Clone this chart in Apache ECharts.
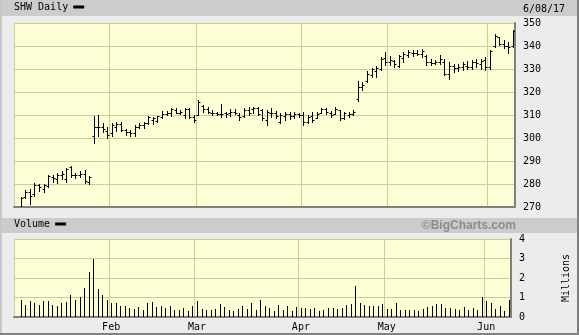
<!DOCTYPE html>
<html><head><meta charset="utf-8">
<script src="https://cdn.jsdelivr.net/npm/echarts@6/dist/echarts.min.js"></script>
<style>html,body{margin:0;padding:0;background:#ececec}#c{width:579px;height:335px}</style>
</head><body><div id="c"></div><script>
// Trading-day slots (first slot 1/02 is the New Year market holiday, no data)
const categories = ['1/02',
 '1/03','1/04','1/05','1/06','1/09','1/10','1/11','1/12','1/13','1/17','1/18','1/19','1/20','1/23','1/24','1/25','1/26','1/27','1/30','1/31',
 '2/01','2/02','2/03','2/06','2/07','2/08','2/09','2/10','2/13','2/14','2/15','2/16','2/17','2/21','2/22','2/23','2/24','2/27','2/28',
 '3/01','3/02','3/03','3/06','3/07','3/08','3/09','3/10','3/13','3/14','3/15','3/16','3/17','3/20','3/21','3/22','3/23','3/24','3/27','3/28','3/29','3/30','3/31',
 '4/03','4/04','4/05','4/06','4/07','4/10','4/11','4/12','4/13','4/17','4/18','4/19','4/20','4/21','4/24','4/25','4/26','4/27','4/28',
 '5/01','5/02','5/03','5/04','5/05','5/08','5/09','5/10','5/11','5/12','5/15','5/16','5/17','5/18','5/19','5/22','5/23','5/24','5/25','5/26','5/30','5/31',
 '6/01','6/02','6/05','6/06','6/07','6/08'];
const monthNames = ['Jan','Feb','Mar','Apr','May','Jun'];

const openP = [269.5,274.5,276.5,275.5,279.5,278,279,283,282,284,282,287.5,284,284,284.5,281,
 301,305,305,303,
 302,305,306,303.5,302.5,302,305,305.5,306.5,308,307.5,309,310.5,311,312,311,310,312.5,309,
 310,314,312.5,311,311,310.5,311,311,311.5,310,309.5,312,312.5,313,312,308,311,311,307,309.5,310.5,309.5,310.5,
 310,307,309.5,308.5,311,312.5,311,310.5,312,308.5,310,310.5,317,322,325,327.5,329,330,335,
 333,333.5,331.5,335,336,337,337,336.5,335.5,333,332.5,333,333,328,331.5,330.5,331,331.5,331,333,332,334,
 331,340,344,341,340,340];
const highP = [274.5,277.5,278,280.5,280,280,284,284,285,285.5,287,288,285,285.5,286,283.5,
 309.5,310,306.4,304.9,
 306.4,307,307,304,303.5,305.5,306.5,307,309.5,309.2,309.7,311.6,311.6,312.9,312.9,312.2,312.9,312.9,309.8,
 316.5,314.3,313.6,312.2,311.4,315,311.4,312.6,312.6,310.7,312.9,313.6,313.6,313.6,312.6,312.2,312.9,311.9,310.7,311.5,311.5,311.5,310.7,
 311.5,310,311.5,311.5,313.2,312.9,311.9,313.3,312.2,311.5,311.5,312.2,324.8,324.5,329,330.5,331.5,335.2,337.5,
 335.5,333.7,335.9,337.4,338.1,338.4,338.1,338.8,335.9,334.5,333.7,335.9,334.5,333,332.3,332.3,333,333.3,333.7,334.5,334.5,335.2,
 338.1,345.4,344,342.5,341.8,346.8];
const lowP = [267,274,271.5,275,277,276.5,278.5,281,280.5,282,281,283,282.5,283,280.5,280,
 298,300.9,302.5,299.9,
 301,303,303,301.5,301,301,304.5,304.5,306,306.3,307,308.6,310,309.6,310.7,310.3,308.6,308.6,307.1,
 310,311.4,310.7,310,310,309.3,309.3,309.6,310.3,307.9,309.3,310,310.7,310,307.9,305.7,309,308.6,306.4,307.9,308.1,308.6,309,
 305.6,306.4,307.1,308.6,310.7,310.4,309,310.4,307.9,308.1,309.3,310,316,321,324.4,326.5,326.5,329.4,331.6,
 331.6,330.9,330.9,333,335.2,335.5,335.9,335.2,331.6,331.6,332.3,332.3,327.2,325.8,328.7,329,329.4,329.8,330.1,330.9,330.1,329.4,
 330.1,339.6,340.3,339.2,337.1,339.6];
const closeP = [274,276.5,275,279.5,278.5,279.5,283.5,282.5,284,284.5,286.5,284,284,284.5,281.5,283,
 305,305,304,301.5,
 305.5,306,303.5,302.5,302,305,305.5,306.5,309,308.5,309.5,310.5,311,312.5,311,311.5,312.5,309,308,
 315.5,312.5,311.5,311,310.5,310.5,310.5,311.5,311,309,312,311,313,310.5,308.5,311.5,311,309.5,310,310.5,309.5,310.5,309.8,
 307,309,308,310.5,312.5,311.5,310,312.5,308.5,311,310.5,311.5,322,323,328,330,330.5,334.5,333,
 334,332,335.5,336.5,337.5,337,336.5,338,333,332.5,333,334.5,328,331.5,330.5,331,332,331,333,332.5,333.5,331,
 338,344.5,341,340,339.5,346.5];
// Volume, millions
const volume = [0.89,0.62,0.82,0.72,0.62,0.82,0.82,0.62,0.58,0.72,0.77,1.11,0.89,1.03,1.49,2.31,2.99,1.42,1.11,0.85,
 0.72,0.72,0.56,0.56,0.48,0.41,0.51,0.38,0.74,0.75,0.51,0.56,0.48,0.56,0.36,0.36,0.48,0.31,0.56,
 0.82,0.41,0.36,0.36,0.41,0.65,0.51,0.36,0.31,0.41,0.56,0.41,0.72,0.36,0.89,0.55,0.46,0.32,0.63,0.38,0.58,0.29,0.51,
 0.46,0.46,0.41,0.46,0.29,0.34,0.46,0.46,0.41,0.46,0.63,0.68,1.61,0.72,0.63,0.58,0.58,0.58,0.68,
 0.41,0.41,0.72,0.34,0.34,0.34,0.38,0.29,0.41,0.51,0.58,0.68,0.68,0.46,0.46,0.41,0.34,0.51,0.38,0.46,0.38,1.01,
 0.84,0.72,0.41,0.58,0.29,0.85];
const priceTicks = {min:270, max:350, step:10};
const volTicks = {min:0, max:4, step:1};

const FONT = 'DejaVu Sans Mono';
const GRID_C = '#cccc99';
const month = s => parseInt(s.split('/')[0], 10);
const isSplit = (i) => i === 0 || month(categories[i]) !== month(categories[i - 1]);
const isLabel = (i) => i > 0 && month(categories[i]) !== month(categories[i - 1]);

const ohlcData = openP.map((o, i) => [i + 1, o, highP[i], lowP[i], closeP[i]]);
const volData = volume.map((v, i) => [i + 1, v]);

function snap(v){ return Math.round(v) + 0.5; }
function renderOHLC(params, api){
  const i = api.value(0);
  const h = api.coord([i, api.value(2)]);
  const l = api.coord([i, api.value(3)]);
  const o = api.coord([i, api.value(1)]);
  const c = api.coord([i, api.value(4)]);
  const x = snap(h[0]);
  const st = {stroke:'#000', lineWidth:1};
  return {type:'group', children:[
    {type:'line', shape:{x1:x, y1:Math.round(h[1]), x2:x, y2:Math.round(l[1])+1}, style:st},
    {type:'line', shape:{x1:x-2, y1:snap(o[1]), x2:x, y2:snap(o[1])}, style:st},
    {type:'line', shape:{x1:x, y1:snap(c[1]), x2:x+2, y2:snap(c[1])}, style:st}
  ]};
}
function renderVol(params, api){
  const i = api.value(0);
  const t = api.coord([i, api.value(1)]);
  const b = api.coord([i, 0]);
  const x = snap(t[0]);
  return {type:'line', shape:{x1:x, y1:Math.round(t[1]), x2:x, y2:b[1]}, style:{stroke:'#000', lineWidth:1}};
}

const xBase = {
  type:'category', data:categories, boundaryGap:true,
  axisLine:{show:true, lineStyle:{color:'#808080', width:2}},
  axisTick:{show:false},
  splitLine:{show:true, interval:isSplit, lineStyle:{color:GRID_C, width:1}}
};
const yBase = {
  type:'value', position:'right',
  axisLine:{show:true, lineStyle:{color:'#808080', width:2}},
  axisTick:{show:false},
  axisLabel:{fontFamily:FONT, fontSize:10, color:'#000', margin:8},
  splitLine:{show:true, lineStyle:{color:GRID_C, width:1}}
};

const chart = echarts.init(document.getElementById('c'), null, {renderer:'canvas'});
chart.setOption({
  animation:false,
  backgroundColor:'#ececec',
  textStyle:{fontFamily:FONT},
  graphic:[
    {type:'rect', shape:{x:0, y:0, width:579, height:16}, style:{fill:'#cccccc'}, z:0},
    {type:'rect', shape:{x:2, y:218, width:575, height:15}, style:{fill:'#cccccc'}, z:0},
    {type:'rect', shape:{x:0, y:0, width:2, height:335}, style:{fill:'#c8c8c8'}, z:0},
    {type:'rect', shape:{x:577, y:0, width:2, height:335}, style:{fill:'#808080'}, z:0},
    {type:'rect', shape:{x:0, y:333, width:579, height:2}, style:{fill:'#808080'}, z:0},
    {type:'text', style:{text:'6/08/17', x:523, y:9, font:'10px "DejaVu Sans Mono"', fill:'#000', verticalAlign:'middle'}, z:5},
    {type:'text', style:{text:'©BigCharts.com', x:516, y:226, font:'bold 12px "Liberation Sans"', fill:'#8c8c8c', align:'right', verticalAlign:'middle'}, z:5}
  ],
  legend:[
    {data:['SHW Daily'], left:14, top:2, padding:0, align:'right', icon:'rect', itemWidth:11, itemHeight:3, selectedMode:false,
     textStyle:{fontFamily:FONT, fontSize:10, color:'#000'}},
    {data:['Volume'], left:14, top:219, padding:0, align:'right', icon:'rect', itemWidth:11, itemHeight:3, selectedMode:false,
     textStyle:{fontFamily:FONT, fontSize:10, color:'#000'}}
  ],
  grid:[
    {left:14, right:64, top:23, height:184, show:true, backgroundColor:'#fdfdd6', borderWidth:0},
    {left:14, right:64, top:239, height:78, show:true, backgroundColor:'#fdfdd6', borderWidth:0}
  ],
  xAxis:[
    Object.assign({}, xBase, {gridIndex:0, axisLabel:{show:false}}),
    Object.assign({}, xBase, {gridIndex:1, axisLabel:{show:true, interval:isLabel, margin:5,
      formatter:(v) => monthNames[month(v) - 1], fontFamily:FONT, fontSize:10, color:'#000'}})
  ],
  yAxis:[
    Object.assign({}, yBase, {gridIndex:0, min:priceTicks.min, max:priceTicks.max, interval:priceTicks.step}),
    Object.assign({}, yBase, {gridIndex:1, min:volTicks.min, max:volTicks.max, interval:volTicks.step,
      name:'Millions', nameLocation:'middle', nameRotate:90, nameGap:50,
      nameTextStyle:{fontFamily:FONT, fontSize:10, color:'#000'}})
  ],
  series:[
    {name:'SHW Daily', type:'custom', xAxisIndex:0, yAxisIndex:0, renderItem:renderOHLC, data:ohlcData,
     encode:{x:0, y:[1,2,3,4]}, itemStyle:{color:'#000'}, clip:true},
    {name:'Volume', type:'custom', xAxisIndex:1, yAxisIndex:1, renderItem:renderVol, data:volData,
     encode:{x:0, y:1}, itemStyle:{color:'#000'}, clip:true}
  ]
});
</script></body></html>
